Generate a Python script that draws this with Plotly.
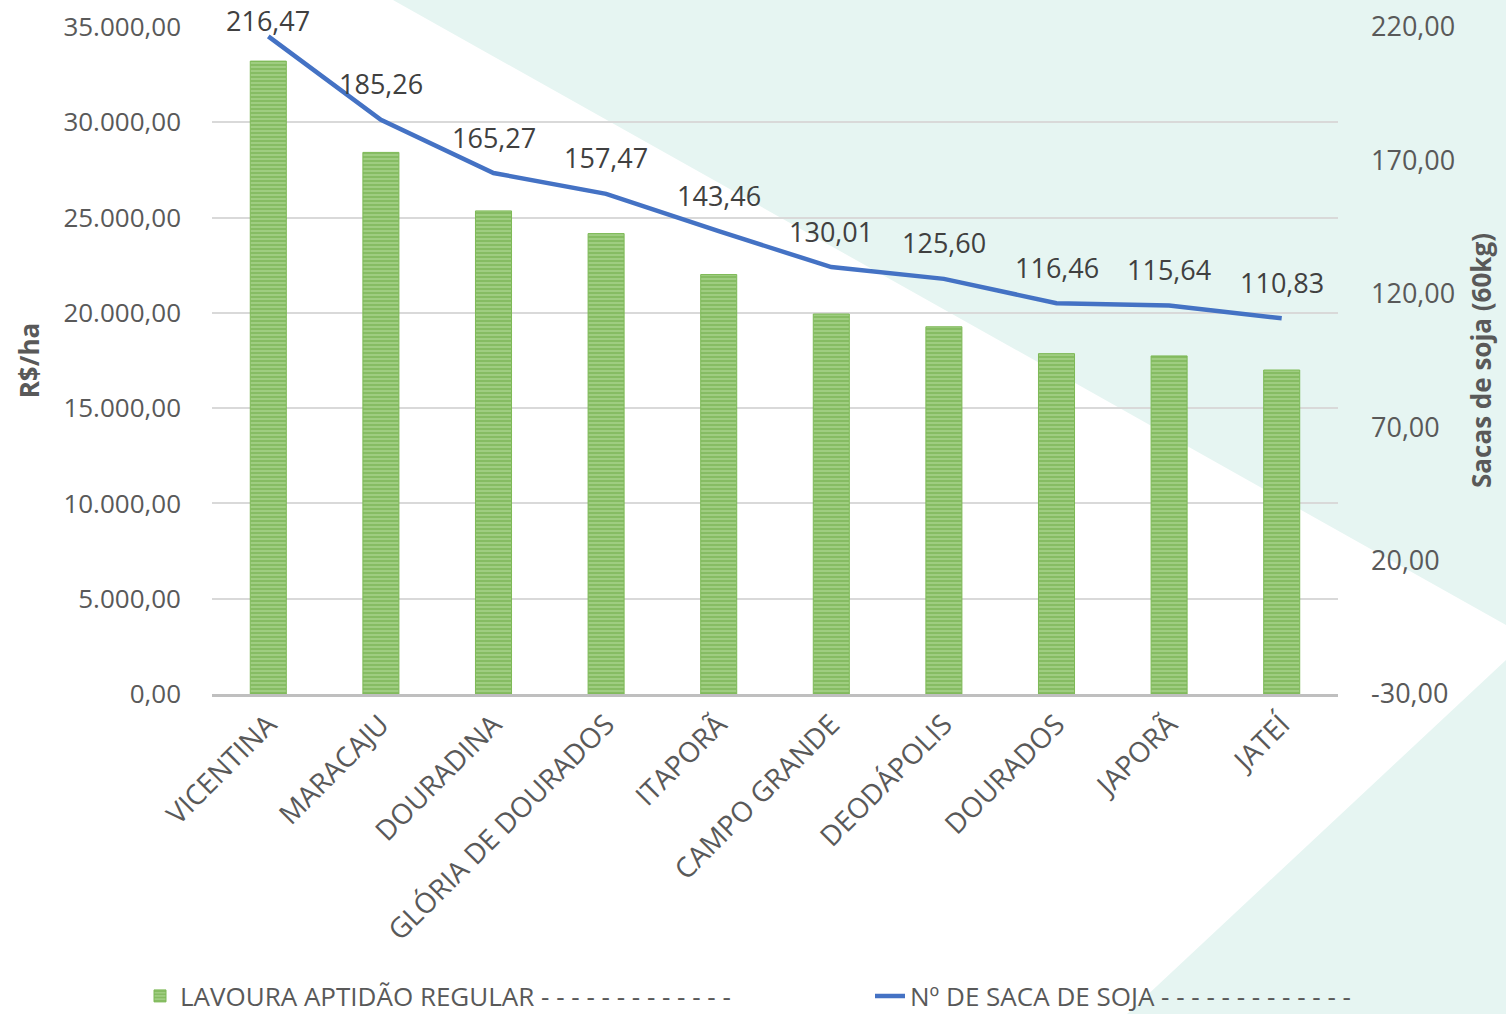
import plotly.graph_objects as go

# ---------------- data ----------------
municipios = ["VICENTINA", "MARACAJU", "DOURADINA", "GLÓRIA DE DOURADOS", "ITAPORÃ",
              "CAMPO GRANDE", "DEODÁPOLIS", "DOURADOS", "JAPORÃ", "JATEÍ"]
lavoura_rs_ha = [33210, 28420, 25350, 24160, 22010, 19940, 19270, 17860, 17740, 17000]
sacas_soja = [216.47, 185.26, 165.27, 157.47, 143.46, 130.01, 125.60, 116.46, 115.64, 110.83]
y2_ticks = [-30, 20, 70, 120, 170, 220]

name_bar = "LAVOURA APTIDÃO REGULAR - - - - - - - - - - - - -"
name_line = "Nº DE SACA DE SOJA - - - - - - - - - - - - -"

# ---------------- layout constants ----------------
W, H = 1506, 1014
ML, MR, MT, MB = 212, 168, 27, 320
PW, PH = W - ML - MR, H - MT - MB
Y2_RANGE = [-30, 220]
TEAL = "#E6F5F2"
GRAY_TXT = "#595959"
FONT = "Open Sans"


def fmt(v):
    s = f"{abs(v):,.2f}".replace(",", "X").replace(".", ",").replace("X", ".")
    return ("-" if v < 0 else "") + s


def px_to_paper(px, py):
    return (px - ML) / PW, (H - MB - py) / PH


def path(points):
    pts = [px_to_paper(x, y) for x, y in points]
    return "M " + " L ".join(f"{x:.4f},{y:.4f}" for x, y in pts) + " Z"


fig = go.Figure()

fig.add_trace(go.Bar(
    x=municipios, y=lavoura_rs_ha, name=name_bar, width=0.32,
    marker=dict(color="#70AD47",
                pattern=dict(shape="-", fgcolor="#64A53A", bgcolor="#A9D38D",
                             size=4, solidity=0.65),
                line=dict(color="#7DB956", width=1)),
    yaxis="y", legend="legend",
))

fig.add_trace(go.Scatter(
    x=municipios, y=sacas_soja, name=name_line, mode="lines",
    line=dict(color="#4472C4", width=4.5),
    yaxis="y2", legend="legend2",
))

# data labels on the line
for m, v in zip(municipios, sacas_soja):
    py = MT + (Y2_RANGE[1] - v) / (Y2_RANGE[1] - Y2_RANGE[0]) * PH
    shift = min(36, py - 20)
    fig.add_annotation(x=m, y=v, xref="x", yref="y2", text=fmt(v),
                       showarrow=False, yshift=shift,
                       font=dict(family=FONT, size=27, color="#404040"))

# background decoration
shapes = [
    dict(type="path", xref="paper", yref="paper", layer="below",
         path=path([(393, 0), (W, 0), (W, 625)]), fillcolor=TEAL, line=dict(width=0)),
    dict(type="path", xref="paper", yref="paper", layer="below",
         path=path([(W, 660), (W, H), (1127, H)]), fillcolor=TEAL, line=dict(width=0)),
]

legend_common = dict(orientation="h", xref="container", yref="container",
                     xanchor="left", yanchor="middle", y=1 - 996 / H,
                     font=dict(family=FONT, size=26, color=GRAY_TXT),
                     bgcolor="rgba(0,0,0,0)")

fig.update_layout(
    width=W, height=H,
    margin=dict(l=ML, r=MR, t=MT, b=MB, autoexpand=False),
    paper_bgcolor="white", plot_bgcolor="rgba(0,0,0,0)",
    separators=",.",
    shapes=shapes,
    font=dict(family=FONT, color=GRAY_TXT),
    xaxis=dict(tickangle=-45, tickfont=dict(family=FONT, size=28, color=GRAY_TXT),
               showline=True, linecolor="#BFBFBF", linewidth=3, ticks="",
               showgrid=False, range=[-0.5, 9.5]),
    yaxis=dict(range=[0, 35000], dtick=5000, tickformat=",.2f",
               tickfont=dict(family=FONT, size=26, color=GRAY_TXT),
               gridcolor="#D9D9D9", gridwidth=2, zeroline=False,
               ticklabelstandoff=30,
               title=dict(text="<b>R$/ha</b>", standoff=16,
                          font=dict(family=FONT, size=26, color=GRAY_TXT))),
    yaxis2=dict(range=Y2_RANGE, tickvals=y2_ticks, ticktext=[fmt(t) for t in y2_ticks],
                overlaying="y", side="right", showgrid=False, zeroline=False,
                tickfont=dict(family=FONT, size=27, color=GRAY_TXT),
                ticklabelstandoff=32,
                title=dict(text="<b>Sacas de soja (60kg)</b>", standoff=18,
                           font=dict(family=FONT, size=26, color=GRAY_TXT))),
    legend=dict(x=140 / W, **legend_common),
    legend2=dict(x=870 / W, **legend_common),
    showlegend=True,
)

fig.write_html("out.html", config={"displayModeBar": False},
               post_script="document.body.style.margin='0px';")
